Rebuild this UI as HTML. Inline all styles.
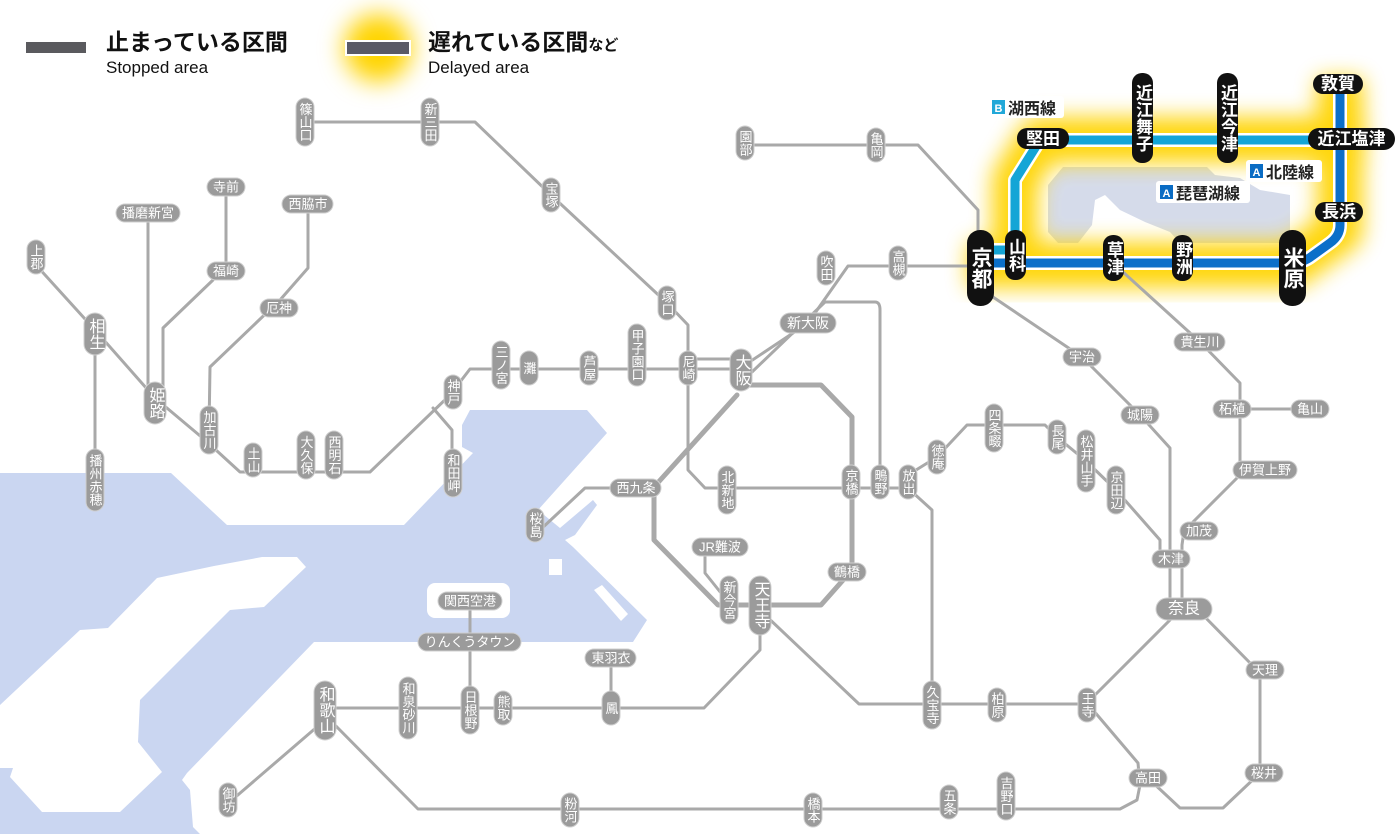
<!DOCTYPE html>
<html><head><meta charset="utf-8"><style>
html,body{margin:0;padding:0;background:#fff;}
svg{display:block;font-family:"Liberation Sans","Noto Sans CJK JP",sans-serif;}
.ln{fill:none;stroke:#a9a9a9;stroke-width:3;stroke-linejoin:round;stroke-linecap:round}
.gp{fill:#9b9b9b;stroke:#cfcfcf;stroke-width:1}
.gt{fill:#fff;font-size:13px;text-anchor:middle}
.v{writing-mode:vertical-rl;text-anchor:middle;dominant-baseline:central}
.h{dominant-baseline:central}
.bp{fill:#111}
.bt{fill:#fff;font-weight:bold;text-anchor:middle}
</style></head><body>
<svg width="1400" height="834" viewBox="0 0 1400 834">
<defs>
<filter id="blur" x="-20%" y="-20%" width="140%" height="140%"><feGaussianBlur stdDeviation="11"/></filter>
<filter id="blur2" x="-80%" y="-80%" width="260%" height="260%"><feGaussianBlur stdDeviation="12"/></filter>
</defs>
<!-- sea -->
<polygon fill="#cad6f1" points="0,473 171,473 227,525 404,525 473,453 462,447 462,425 470,410 587,410 607,433 538,510 560,528 593,500 597,505 575,535 565,540 573,547 647,620 633,642 314,642 187,773 182,780 190,790 193,827 200,834 0,834"/>
<polygon fill="#fff" points="0,705 80,630 108,628 157,578 214,566 262,557 297,557 306,567 264,607 230,610 140,700 138,742 162,772 120,812 42,812 10,777 13,768 0,768"/>
<rect x="427" y="583" width="83" height="35" rx="8" fill="#fff"/>
<polygon fill="#fff" points="549,559 562,559 562,575 549,575"/>
<polygon fill="#fff" points="594,590 602,585 628,614 621,621"/>
<!-- lake -->
<polygon fill="#d5dbea" points="1063,167 1207,167 1215,175 1240,178 1260,190 1290,195 1290,236 1280,243 1180,243 1170,232 1145,222 1120,210 1105,195 1095,200 1092,225 1078,243 1058,243 1048,232 1048,185"/>
<!-- glow -->
<path d="M968,265 L1292,265 L1340,230 L1340,78 M1015,265 L1015,180 L1040,140 L1365,140" fill="none" stroke="#ffd400" stroke-width="46" stroke-linejoin="round" filter="url(#blur)" opacity="0.95"/>
<!-- legend -->
<rect x="26" y="42" width="60" height="11" fill="#5a5a5e"/>
<text x="106" y="50" font-size="23" font-weight="bold" fill="#111">止まっている区間</text>
<text x="106" y="73" font-size="17" fill="#111">Stopped area</text>
<circle cx="378" cy="48" r="34" fill="#ffd400" filter="url(#blur2)"/>
<rect x="346" y="41" width="64" height="14" fill="#5a5a66" stroke="#fff" stroke-width="2"/>
<text x="428" y="50" font-size="23" font-weight="bold" fill="#111">遅れている区間<tspan font-size="15">など</tspan></text>
<text x="428" y="73" font-size="17" fill="#111">Delayed area</text>
<!-- gray lines -->
<g class="ln">
<path d="M36,265 L95,330 L155,398 L205,440 L240,472 L370,472 L450,395 L470,369 L740,369"/>
<path d="M688,359 L740,359"/>
<path d="M745,365 L808,323 L848,266 L968,266"/>
<path d="M752,372 L825,302 L875,302 Q880,302 880,310 L880,482"/>
<path d="M305,122 L475,122 L551,195 L667,303 L688,325 L688,470 L705,488 L908,488"/>
<path d="M750,385 L821,385 L852,417 L852,570 L821,605 L718,605 L654,540 L654,487 L737,395" stroke-width="5"/>
<path d="M620,488 L585,488 L540,530"/>
<path d="M745,145 L918,145 L978,210 L978,240"/>
<path d="M990,295 L1082,357 L1140,415 L1170,448 L1170,609"/>
<path d="M1123,272 L1200,342 L1240,383 L1240,470"/>
<path d="M1232,409 L1310,409"/>
<path d="M1240,475 L1184,531 L1182,545 L1182,609"/>
<path d="M908,475 L937,457 L967,425 L1045,425 L1057,437 L1086,461 L1116,490 L1160,540 L1160,559"/>
<path d="M1200,612 L1255,668 L1260,675 L1260,773 L1223,808 L1180,808 L1150,780"/>
<path d="M1175,615 L1093,697 L1087,704 L859,704 L763,613"/>
<path d="M1093,710 L1138,763 L1140,785 L1137,800 L1120,809 L418,809 L330,720"/>
<path d="M910,490 L932,510 L932,705"/>
<path d="M760,620 L760,650 L704,708 L330,708"/>
<path d="M611,658 L611,708 M470,601 L470,710"/>
<path d="M325,720 L232,800"/>
<path d="M705,547 L705,573 L725,598"/>
<path d="M226,187 L226,271 M213,280 L163,328 L163,400 M148,213 L148,400"/>
<path d="M308,204 L308,268 L280,300 L210,367 L209,430"/>
<path d="M95,330 L95,480"/>
<path d="M433,408 L452,430 L452,473"/>
</g>
<!-- colored lines -->
<path d="M968,263 L1292,263 Q1303,263 1312,256 L1330,243 Q1340,236 1340,225 L1340,82" fill="none" stroke="#fff" stroke-width="14" stroke-linejoin="round"/>
<path d="M968,263 L1292,263 Q1303,263 1312,256 L1330,243 Q1340,236 1340,225 L1340,82" fill="none" stroke="#0b6fc9" stroke-width="9" stroke-linejoin="round"/>
<path d="M985,250 L1015,250 L1015,180 L1040,140 L1345,140" fill="none" stroke="#fff" stroke-width="14" stroke-linejoin="round"/>
<path d="M985,250 L1015,250 L1015,180 L1040,140 L1345,140" fill="none" stroke="#14a5d6" stroke-width="9" stroke-linejoin="round"/>
<!-- line labels -->
<rect x="988" y="96" width="76" height="22" fill="#fff" rx="3"/>
<rect x="992" y="100" width="13" height="14" fill="#22a8d8"/><text x="998.5" y="112" font-size="11" fill="#fff" text-anchor="middle" font-weight="bold">B</text>
<text x="1008" y="114" font-size="16" font-weight="bold" fill="#222">湖西線</text>
<rect x="1246" y="160" width="76" height="22" fill="#fff" rx="3"/>
<rect x="1250" y="164" width="13" height="14" fill="#0a6cc4"/><text x="1256.5" y="176" font-size="11" fill="#fff" text-anchor="middle" font-weight="bold">A</text>
<text x="1266" y="178" font-size="16" font-weight="bold" fill="#222">北陸線</text>
<rect x="1156" y="181" width="94" height="22" fill="#fff" rx="3"/>
<rect x="1160" y="185" width="13" height="14" fill="#0a6cc4"/><text x="1166.5" y="197" font-size="11" fill="#fff" text-anchor="middle" font-weight="bold">A</text>
<text x="1176" y="199" font-size="16" font-weight="bold" fill="#222">琵琶湖線</text>
<!-- gray vertical stations -->
<g>
<rect class="gp" x="296" y="98" width="18" height="48" rx="9"/><text class="gt v" x="305" y="122">篠山口</text>
<rect class="gp" x="421" y="98" width="18" height="48" rx="9"/><text class="gt v" x="430" y="122">新三田</text>
<rect class="gp" x="542" y="178" width="18" height="34" rx="9"/><text class="gt v" x="551" y="195">宝塚</text>
<rect class="gp" x="736" y="126" width="18" height="34" rx="9"/><text class="gt v" x="745" y="143">園部</text>
<rect class="gp" x="867" y="128" width="18" height="34" rx="9"/><text class="gt v" x="876" y="145">亀岡</text>
<rect class="gp" x="817" y="251" width="18" height="34" rx="9"/><text class="gt v" x="826" y="268">吹田</text>
<rect class="gp" x="889" y="246" width="18" height="34" rx="9"/><text class="gt v" x="898" y="263">高槻</text>
<rect class="gp" x="658" y="286" width="18" height="34" rx="9"/><text class="gt v" x="667" y="303">塚口</text>
<rect class="gp" x="628" y="324" width="18" height="62" rx="9"/><text class="gt v" x="637" y="355">甲子園口</text>
<rect class="gp" x="580" y="351" width="18" height="34" rx="9"/><text class="gt v" x="589" y="368">芦屋</text>
<rect class="gp" x="520" y="351" width="18" height="34" rx="9"/><text class="gt v" x="529" y="368">灘</text>
<rect class="gp" x="492" y="341" width="18" height="48" rx="9"/><text class="gt v" x="501" y="365">三ノ宮</text>
<rect class="gp" x="679" y="351" width="18" height="34" rx="9"/><text class="gt v" x="688" y="368">尼崎</text>
<rect class="gp" x="444" y="375" width="18" height="34" rx="9"/><text class="gt v" x="453" y="392">神戸</text>
<rect class="gp" x="444" y="449" width="18" height="48" rx="9"/><text class="gt v" x="453" y="473">和田岬</text>
<rect class="gp" x="325" y="431" width="18" height="48" rx="9"/><text class="gt v" x="334" y="455">西明石</text>
<rect class="gp" x="297" y="431" width="18" height="48" rx="9"/><text class="gt v" x="306" y="455">大久保</text>
<rect class="gp" x="244" y="443" width="18" height="34" rx="9"/><text class="gt v" x="253" y="460">土山</text>
<rect class="gp" x="200" y="406" width="18" height="48" rx="9"/><text class="gt v" x="209" y="430">加古川</text>
<rect class="gp" x="27" y="240" width="18" height="34" rx="9"/><text class="gt v" x="36" y="257">上郡</text>
<rect class="gp" x="86" y="449" width="18" height="62" rx="9"/><text class="gt v" x="95" y="480">播州赤穂</text>
<rect class="gp" x="526" y="508" width="18" height="34" rx="9"/><text class="gt v" x="535" y="525">桜島</text>
<rect class="gp" x="718" y="466" width="18" height="48" rx="9"/><text class="gt v" x="727" y="490">北新地</text>
<rect class="gp" x="842" y="465" width="18" height="34" rx="9"/><text class="gt v" x="851" y="482">京橋</text>
<rect class="gp" x="871" y="465" width="18" height="34" rx="9"/><text class="gt v" x="880" y="482">鴫野</text>
<rect class="gp" x="899" y="465" width="18" height="34" rx="9"/><text class="gt v" x="908" y="482">放出</text>
<rect class="gp" x="720" y="576" width="18" height="48" rx="9"/><text class="gt v" x="729" y="600">新今宮</text>
<rect class="gp" x="602" y="691" width="18" height="34" rx="9"/><text class="gt v" x="611" y="708">鳳</text>
<rect class="gp" x="494" y="691" width="18" height="34" rx="9"/><text class="gt v" x="503" y="708">熊取</text>
<rect class="gp" x="461" y="686" width="18" height="48" rx="9"/><text class="gt v" x="470" y="710">日根野</text>
<rect class="gp" x="399" y="677" width="18" height="62" rx="9"/><text class="gt v" x="408" y="708">和泉砂川</text>
<rect class="gp" x="219" y="783" width="18" height="34" rx="9"/><text class="gt v" x="228" y="800">御坊</text>
<rect class="gp" x="561" y="793" width="18" height="34" rx="9"/><text class="gt v" x="570" y="810">粉河</text>
<rect class="gp" x="804" y="793" width="18" height="34" rx="9"/><text class="gt v" x="813" y="810">橋本</text>
<rect class="gp" x="940" y="785" width="18" height="34" rx="9"/><text class="gt v" x="949" y="802">五条</text>
<rect class="gp" x="997" y="772" width="18" height="48" rx="9"/><text class="gt v" x="1006" y="796">吉野口</text>
<rect class="gp" x="1078" y="688" width="18" height="34" rx="9"/><text class="gt v" x="1087" y="705">王寺</text>
<rect class="gp" x="988" y="688" width="18" height="34" rx="9"/><text class="gt v" x="997" y="705">柏原</text>
<rect class="gp" x="923" y="681" width="18" height="48" rx="9"/><text class="gt v" x="932" y="705">久宝寺</text>
<rect class="gp" x="1107" y="466" width="18" height="48" rx="9"/><text class="gt v" x="1116" y="490">京田辺</text>
<rect class="gp" x="1077" y="430" width="18" height="62" rx="9"/><text class="gt v" x="1086" y="461">松井山手</text>
<rect class="gp" x="1048" y="420" width="18" height="34" rx="9"/><text class="gt v" x="1057" y="437">長尾</text>
<rect class="gp" x="985" y="404" width="18" height="48" rx="9"/><text class="gt v" x="994" y="428">四条畷</text>
<rect class="gp" x="928" y="440" width="18" height="34" rx="9"/><text class="gt v" x="937" y="457">徳庵</text>
</g>
<!-- big gray vertical -->
<g>
<rect class="gp" x="730" y="349" width="22" height="42" rx="11"/><text class="gt v" x="741" y="370" style="font-size:16px">大阪</text>
<rect class="gp" x="144" y="382" width="22" height="42" rx="11"/><text class="gt v" x="155" y="403" style="font-size:16px">姫路</text>
<rect class="gp" x="84" y="313" width="22" height="42" rx="11"/><text class="gt v" x="95" y="334" style="font-size:16px">相生</text>
<rect class="gp" x="749" y="576" width="22" height="59" rx="11"/><text class="gt v" x="760" y="605" style="font-size:16px">天王寺</text>
<rect class="gp" x="314" y="681" width="22" height="59" rx="11"/><text class="gt v" x="325" y="710" style="font-size:16px">和歌山</text>
</g>
<!-- gray horizontal -->
<g>
<rect class="gp" x="207" y="178" width="38" height="18" rx="9"/><text class="gt h" x="226" y="187">寺前</text>
<rect class="gp" x="116" y="204" width="64" height="18" rx="9"/><text class="gt h" x="148" y="213">播磨新宮</text>
<rect class="gp" x="282" y="195" width="51" height="18" rx="9"/><text class="gt h" x="308" y="204">西脇市</text>
<rect class="gp" x="207" y="262" width="38" height="18" rx="9"/><text class="gt h" x="226" y="271">福崎</text>
<rect class="gp" x="260" y="299" width="38" height="18" rx="9"/><text class="gt h" x="279" y="308">厄神</text>
<rect class="gp" x="780" y="313" width="56" height="20" rx="10"/><text class="gt h" x="808" y="323" style="font-size:14px">新大阪</text>
<rect class="gp" x="610" y="479" width="51" height="18" rx="9"/><text class="gt h" x="636" y="488">西九条</text>
<rect class="gp" x="692" y="538" width="56" height="18" rx="9"/><text class="gt h" x="720" y="547">JR難波</text>
<rect class="gp" x="828" y="563" width="38" height="18" rx="9"/><text class="gt h" x="847" y="572">鶴橋</text>
<rect class="gp" x="438" y="592" width="64" height="18" rx="9"/><text class="gt h" x="470" y="601">関西空港</text>
<rect class="gp" x="418" y="633" width="103" height="18" rx="9"/><text class="gt h" x="470" y="642">りんくうタウン</text>
<rect class="gp" x="585" y="649" width="51" height="18" rx="9"/><text class="gt h" x="611" y="658">東羽衣</text>
<rect class="gp" x="1129" y="769" width="38" height="18" rx="9"/><text class="gt h" x="1148" y="778">高田</text>
<rect class="gp" x="1245" y="764" width="38" height="18" rx="9"/><text class="gt h" x="1264" y="773">桜井</text>
<rect class="gp" x="1246" y="661" width="38" height="18" rx="9"/><text class="gt h" x="1265" y="670">天理</text>
<rect class="gp" x="1156" y="598" width="56" height="22" rx="11"/><text class="gt h" x="1184" y="609" style="font-size:16px">奈良</text>
<rect class="gp" x="1152" y="550" width="38" height="18" rx="9"/><text class="gt h" x="1171" y="559">木津</text>
<rect class="gp" x="1180" y="522" width="38" height="18" rx="9"/><text class="gt h" x="1199" y="531">加茂</text>
<rect class="gp" x="1233" y="461" width="64" height="18" rx="9"/><text class="gt h" x="1265" y="470">伊賀上野</text>
<rect class="gp" x="1213" y="400" width="38" height="18" rx="9"/><text class="gt h" x="1232" y="409">柘植</text>
<rect class="gp" x="1291" y="400" width="38" height="18" rx="9"/><text class="gt h" x="1310" y="409">亀山</text>
<rect class="gp" x="1174" y="333" width="51" height="18" rx="9"/><text class="gt h" x="1200" y="342">貴生川</text>
<rect class="gp" x="1063" y="348" width="38" height="18" rx="9"/><text class="gt h" x="1082" y="357">宇治</text>
<rect class="gp" x="1121" y="406" width="38" height="18" rx="9"/><text class="gt h" x="1140" y="415">城陽</text>
</g>
<!-- black stations -->
<g>
<rect class="bp" x="967" y="230" width="27" height="76" rx="13"/><text class="bt v" x="980.5" y="268" style="font-size:21px">京都</text>
<rect class="bp" x="1005" y="230" width="21" height="50" rx="10"/><text class="bt v" x="1015.5" y="255" style="font-size:17px">山科</text>
<rect class="bp" x="1103" y="235" width="21" height="46" rx="10"/><text class="bt v" x="1113.5" y="258" style="font-size:17px">草津</text>
<rect class="bp" x="1172" y="235" width="21" height="46" rx="10"/><text class="bt v" x="1182.5" y="258" style="font-size:17px">野洲</text>
<rect class="bp" x="1279" y="230" width="27" height="76" rx="13"/><text class="bt v" x="1292.5" y="268" style="font-size:21px">米原</text>
<rect class="bp" x="1132" y="73" width="21" height="90" rx="10"/><text class="bt v" x="1142.5" y="118" style="font-size:17px">近江舞子</text>
<rect class="bp" x="1217" y="73" width="21" height="90" rx="10"/><text class="bt v" x="1227.5" y="118" style="font-size:17px">近江今津</text>
<rect class="bp" x="1017" y="128" width="52" height="21" rx="10"/><text class="bt h" x="1043" y="139" style="font-size:17px">堅田</text>
<rect class="bp" x="1308" y="128" width="87" height="22" rx="11"/><text class="bt h" x="1351.5" y="139" style="font-size:17px">近江塩津</text>
<rect class="bp" x="1313" y="74" width="50" height="20" rx="10"/><text class="bt h" x="1338" y="84" style="font-size:17px">敦賀</text>
<rect class="bp" x="1315" y="202" width="48" height="20" rx="10"/><text class="bt h" x="1339" y="212" style="font-size:17px">長浜</text>
</g>
</svg>
</body></html>
